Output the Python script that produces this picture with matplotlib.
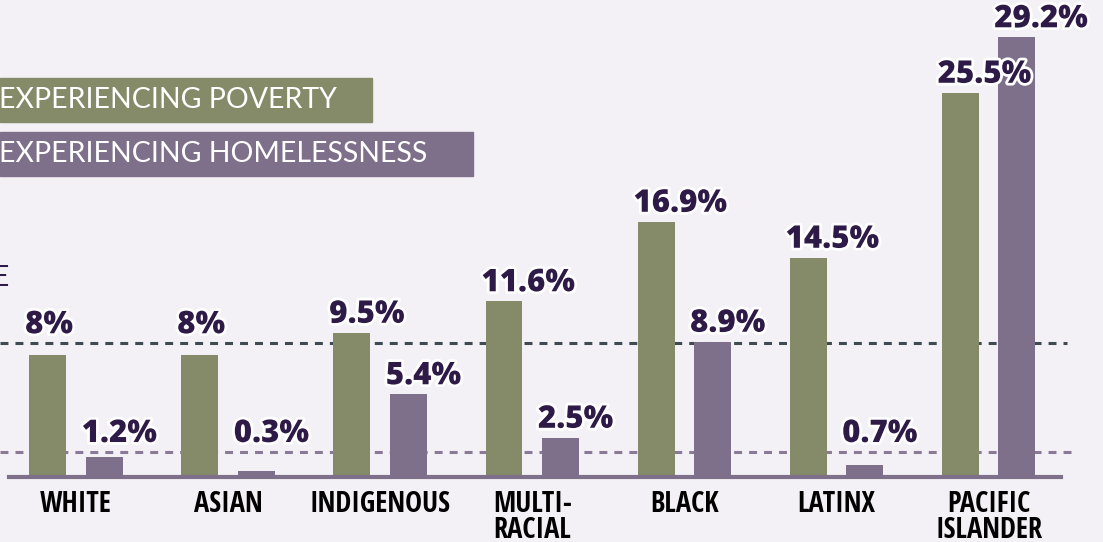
import matplotlib
matplotlib.use("Agg")
import matplotlib.pyplot as plt
import matplotlib.patheffects as pe
import numpy as np

# ---- data ----
categories = ["WHITE", "ASIAN", "INDIGENOUS", "MULTI-\nRACIAL", "BLACK", "LATINX", "PACIFIC\nISLANDER"]
poverty = [8.0, 8.0, 9.5, 11.6, 16.9, 14.5, 25.5]
homeless = [1.2, 0.3, 5.4, 2.5, 8.9, 0.7, 29.2]
poverty_labels = ["8%", "8%", "9.5%", "11.6%", "16.9%", "14.5%", "25.5%"]
homeless_labels = ["1.2%", "0.3%", "5.4%", "2.5%", "8.9%", "0.7%", "29.2%"]
avg_poverty = 8.8
avg_homeless = 1.55
legend_labels = ["EXPERIENCING POVERTY", "EXPERIENCING HOMELESSNESS"]
avg_label = "STATE AVERAGE"

# ---- style ----
BG = "#f3f1f5"
GREEN = "#858a68"
PURPLE = "#7e6f8b"
DARK = "#2e1a47"
DASH_DARK = "#3f4a52"
DASH_PURPLE = "#8a7a98"
COND = ["Open Sans Condensed", "Roboto Condensed", "Archivo Narrow",
        "Sofia Sans Condensed", "DejaVu Sans"]

W, H = 1103, 542
fig = plt.figure(figsize=(W / 100, H / 100), dpi=100, facecolor=BG)
ax = fig.add_axes([0, 0, 1, 1])
ax.set_facecolor(BG)

px_per_unit = 152.1
px_per_pct = 15.0
x0_px = 76
base_px = 475  # from top
ax.set_xlim(-x0_px / px_per_unit, (W - x0_px) / px_per_unit)
ax.set_ylim(-(H - base_px) / px_per_pct, base_px / px_per_pct)
ax.axis("off")

x = np.arange(len(categories))
off = 0.186
bw = 0.243

ax.bar(x - off, poverty, width=bw, color=GREEN, zorder=3)
ax.bar(x + off, homeless, width=bw, color=PURPLE, zorder=3)

# average lines
ax.axhline(avg_poverty, xmin=0, xmax=1067 / W, color=DASH_DARK, lw=2.2,
           dashes=(2.6, 2.3), zorder=2)
ax.axhline(avg_homeless, xmin=0, xmax=1072 / W, color=DASH_PURPLE, lw=2.2,
           dashes=(2.6, 2.3), zorder=2)

# baseline
ax.axhline(-0.12, xmin=9 / W, xmax=1061 / W, color=PURPLE, lw=3.0, zorder=4)

vfont = dict(family="Open Sans", weight=800, size=22.5, color=DARK)
stroke = [pe.withStroke(linewidth=4, foreground="white")]
for xi, v, lab in zip(x - off - bw / 2, poverty, poverty_labels):
    ax.annotate(lab, (xi, max(v, avg_poverty)), xytext=(-3, 7), textcoords="offset points",
                ha="left", va="baseline", zorder=6, path_effects=stroke, **vfont)
for xi, v, lab in zip(x + off - bw / 2, homeless, homeless_labels):
    ax.annotate(lab, (xi, max(v, avg_homeless)), xytext=(-3, 7), textcoords="offset points",
                ha="left", va="baseline", zorder=6, path_effects=stroke, **vfont)

# category labels
for xi, c in zip(x, categories):
    ax.text(xi, -(490 - base_px) / px_per_pct, c, ha="center", va="top",
            family=COND, weight="bold", stretch="condensed",
            size=20.5, color="black", linespacing=0.86)

# legend boxes
leg_colors = [GREEN, PURPLE]
boxes = [(78, 122, 372), (132, 176, 473)]
for (top, bot, right), col, lab in zip(boxes, leg_colors, legend_labels):
    fig.patches.append(plt.Rectangle((0, 1 - bot / H), right / W, (bot - top) / H,
                                     transform=fig.transFigure, color=col, zorder=1))
    fig.text(-1 / W, 1 - (top + bot) / 2 / H, lab, ha="left", va="center",
             family="Lato", size=20.5, color="white", zorder=2)

fig.text(9 / W, 1 - 278 / H, avg_label, ha="right", va="center",
         family="Lato", size=20.5, color=DARK)

fig.savefig("out.png", dpi=100, facecolor=BG)
